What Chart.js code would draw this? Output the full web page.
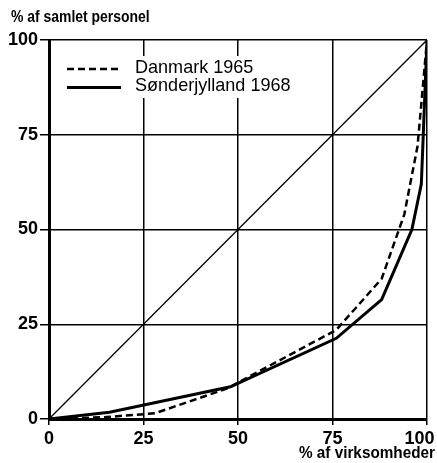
<!DOCTYPE html>
<html>
<head>
<meta charset="utf-8">
<script src="https://cdn.jsdelivr.net/npm/chart.js@4.4.1/dist/chart.umd.min.js"></script>
<style>
  html, body { margin: 0; padding: 0; background: #fff; }
  #wrap { width: 437px; height: 463px; }
</style>
</head>
<body>
<div id="wrap"><canvas id="chart"></canvas></div>
<script>
// Lorenz curves: % of firms (x) vs % of total staff (y)
const danmarkX = [0, 15, 28, 47, 76, 88, 94, 97.5, 100];
const danmarkY = [0, 0.5, 1.5, 8, 23.5, 37, 54, 72, 100];
const sonderX = [0, 16, 48, 76, 88, 96, 98.5, 100];
const sonderY = [0, 1.8, 8.5, 21.3, 31.5, 50, 62, 100];
const equalX = [0, 100];
const equalY = [0, 100];
const tickValues = [0, 25, 50, 75, 100];

const seriesNames = ['Danmark 1965', 'Sønderjylland 1968'];
const yTitle = '% af samlet personel';
const xTitle = '% af virksomheder';

const toPts = (xs, ys) => xs.map((x, i) => ({ x, y: ys[i] }));

const FAMILY = '"Liberation Sans", Arial, sans-serif';
const tickFont = { family: FAMILY, size: 18, weight: 'bold' };

// narrow-looking text: draw with a horizontal squeeze
function squeezedText(ctx, text, x, y, align, sx) {
    ctx.save();
    ctx.translate(x, y);
    ctx.scale(sx, 1);
    ctx.textAlign = align;
    ctx.fillText(text, 0, 0);
    ctx.restore();
}

// axis titles in the corners + legend inside the plot
const decorations = {
    id: 'decorations',
    afterDatasetsDraw(chart) {
        const ctx = chart.ctx;
        const area = chart.chartArea;
        ctx.save();
        ctx.fillStyle = '#000';
        ctx.textBaseline = 'alphabetic';
        ctx.font = 'bold 17px ' + FAMILY;
        squeezedText(ctx, yTitle, 11, 22, 'left', 0.82);
        squeezedText(ctx, xTitle, chart.width - 2, 458, 'right', 0.9);

        // legend box
        const bx = area.left + 12, by = area.top + 16;
        ctx.fillStyle = '#fff';
        ctx.fillRect(bx, by, 250, 42);
        ctx.font = '19px ' + FAMILY;
        ctx.textBaseline = 'middle';
        chart.data.datasets.slice(0, 2).forEach((ds, i) => {
            const y = by + 13 + i * 18.5;
            ctx.strokeStyle = '#000';
            ctx.lineWidth = ds.borderWidth;
            ctx.setLineDash(ds.borderDash || []);
            ctx.beginPath();
            ctx.moveTo(area.left + 18, y);
            ctx.lineTo(area.left + 72, y);
            ctx.stroke();
            ctx.setLineDash([]);
            ctx.fillStyle = '#000';
            squeezedText(ctx, ds.label, area.left + 86, y - 1.5, 'left', 0.95);
        });
        ctx.restore();
    }
};

new Chart(document.getElementById('chart'), {
    type: 'scatter',
    data: {
        datasets: [
            {
                label: seriesNames[0],
                data: toPts(danmarkX, danmarkY),
                showLine: true, borderColor: '#000', borderWidth: 2.5,
                borderDash: [7, 4], pointRadius: 0, tension: 0
            },
            {
                label: seriesNames[1],
                data: toPts(sonderX, sonderY),
                showLine: true, borderColor: '#000', borderWidth: 3,
                pointRadius: 0, tension: 0
            },
            {
                label: 'equal',
                data: toPts(equalX, equalY),
                showLine: true, borderColor: '#000', borderWidth: 1.3,
                pointRadius: 0
            }
        ]
    },
    options: {
        responsive: true,
        maintainAspectRatio: false,
        animation: false,
        layout: { padding: { top: 40, right: 10, left: 0, bottom: 0 } },
        plugins: {
            legend: { display: false },
            tooltip: { enabled: false },
            title: { display: false }
        },
        scales: {
            x: {
                type: 'linear', min: 0, max: 100,
                afterBuildTicks: s => { s.ticks = tickValues.map(v => ({ value: v })); },
                grid: { color: '#000', lineWidth: 1.5, tickLength: 6, tickColor: '#000' },
                border: { color: '#000', width: 3 },
                ticks: {
                    color: '#000', font: tickFont, padding: 3, maxRotation: 0,
                    // last label sits a little left so it stays inside the page
                    callback: v => v === 100 ? '100\u00a0\u00a0\u00a0' : String(v)
                },
                afterFit: s => { s.height = 44; s.paddingLeft = 0; s.paddingRight = 10; }
            },
            y: {
                type: 'linear', min: 0, max: 100,
                afterBuildTicks: s => { s.ticks = tickValues.map(v => ({ value: v })); },
                grid: { color: '#000', lineWidth: 1.5, tickLength: 9, tickColor: '#000' },
                border: { color: '#000', width: 3 },
                ticks: { color: '#000', font: tickFont, padding: 2 },
                afterFit: s => { s.width = 49; s.paddingTop = 0; s.paddingBottom = 0; }
            }
        }
    },
    plugins: [decorations]
});
</script>
</body>
</html>
